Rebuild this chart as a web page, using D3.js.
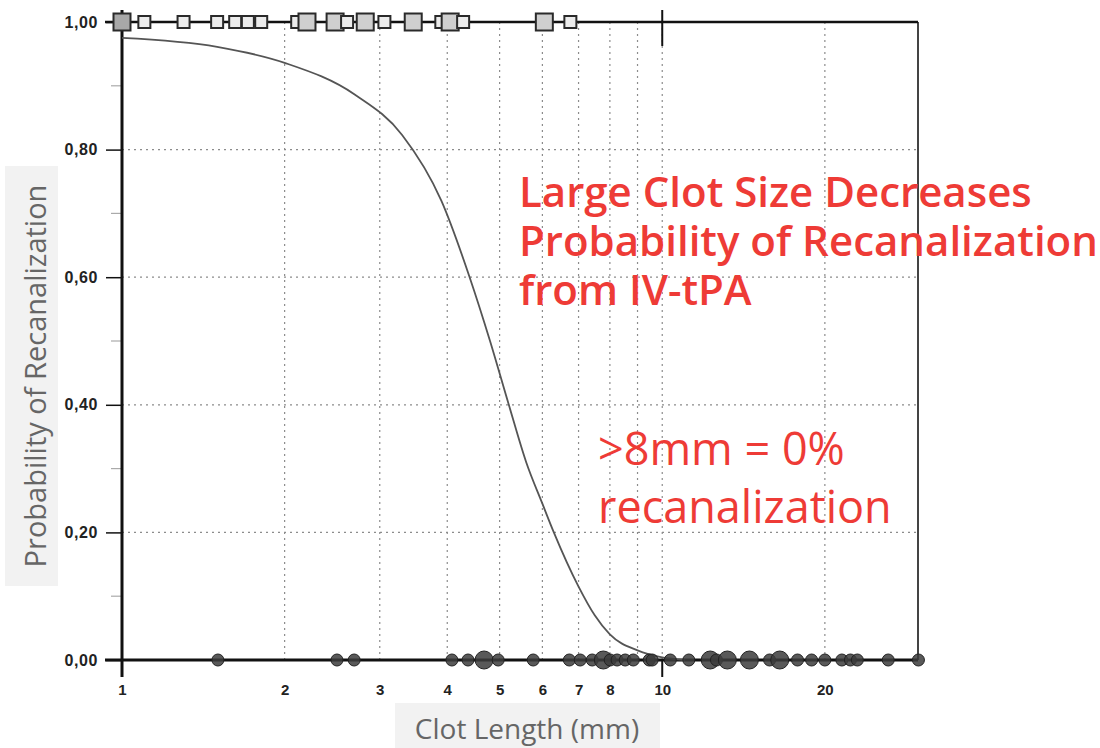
<!DOCTYPE html>
<html>
<head>
<meta charset="utf-8">
<script src="https://cdnjs.cloudflare.com/ajax/libs/d3/7.8.5/d3.min.js"></script>
<style>
  body { margin: 0; background: #fff; }
  svg { display: block; }
</style>
</head>
<body>
<div id="chart"></div>
<script>
// Canvas size
var w = 1100;
var h = 748;

// Fitted curve
var curveX = [1, 1.5, 2, 2.7, 3.3, 3.9, 4.4, 4.8, 5.2, 5.6, 6.0, 6.3, 7.0, 7.5, 8.0, 9.0, 10, 11];
var curveY = [0.975, 0.961, 0.936, 0.886, 0.823, 0.72, 0.60, 0.50, 0.40, 0.31, 0.245, 0.20, 0.115, 0.07, 0.04, 0.015, 0.004, 0];

// Recanalized (top row, squares): clot length and number of patients
var squareX = [1.0, 1.10, 1.30, 1.50, 1.62, 1.71, 1.81, 2.11, 2.20, 2.48, 2.61, 2.82, 3.06, 3.46, 3.90, 4.05, 4.28, 6.05, 6.76];
var squareN = [3, 1, 1, 1, 1, 1, 1, 1, 2, 2, 1, 2, 1, 2, 1, 2, 1, 2, 1];

// Not recanalized (bottom row, circles)
var circleX = [1.505, 2.50, 2.69, 4.08, 4.37, 4.68, 4.97, 5.77, 6.73, 7.05, 7.42, 7.78, 8.01, 8.25, 8.54, 8.84, 9.46, 9.58,
               10.35, 11.2, 12.27, 12.6, 13.2, 14.5, 15.8, 16.5, 17.8, 18.9, 20.0, 21.5, 22.3, 22.97, 26.2, 29.8];
var circleN = [1, 1, 1, 1, 1, 2, 1, 1, 1, 1, 1, 2, 1, 1, 1, 1, 1, 1,
               1, 1, 2, 1, 2, 2, 1, 2, 1, 1, 1, 1, 1, 1, 1, 1];

// Ticks
var xTicks = [1, 2, 3, 4, 5, 6, 7, 8, 10, 20];
var xGrid = [2, 3, 4, 5, 6, 7, 8, 9, 10, 20];
var yTicks = [0, 0.2, 0.4, 0.6, 0.8, 1.0];
var yMinor = [0.1, 0.3, 0.5, 0.7, 0.9];

var titleLines = ["Large Clot Size Decreases", "Probability of Recanalization", "from IV-tPA"];
var noteLines = [">8mm = 0%", "recanalization"];

var svg = d3.select('#chart').append('svg')
    .attr('width', w)
    .attr('height', h);

var x = d3.scaleLog()
    .domain([1, 30])
    .range([122, 920]);

var y = d3.scaleLinear()
    .domain([0, 1])
    .range([660, 22]);

var fmt = function(d) { return d3.format('.2f')(d).replace('.', ','); };

// grid
svg.append('g').selectAll('line')
    .data(xGrid)
  .enter().append('line')
    .attr('x1', d => x(d)).attr('x2', d => x(d))
    .attr('y1', y(1)).attr('y2', y(0))
    .attr('stroke', '#8c8c8c')
    .attr('stroke-width', 1.2)
    .attr('stroke-dasharray', '2,4');

svg.append('g').selectAll('line')
    .data([0.2, 0.4, 0.6, 0.8])
  .enter().append('line')
    .attr('x1', x(1)).attr('x2', 916)
    .attr('y1', d => y(d)).attr('y2', d => y(d))
    .attr('stroke', '#8c8c8c')
    .attr('stroke-width', 1.2)
    .attr('stroke-dasharray', '2,4');

// frame: right side
svg.append('line')
    .attr('x1', 918).attr('x2', 918)
    .attr('y1', y(1)).attr('y2', y(0))
    .attr('stroke', '#444').attr('stroke-width', 2);

// top and bottom rows
svg.selectAll('.row')
    .data([0, 1])
  .enter().append('line')
    .attr('x1', 105).attr('x2', 918)
    .attr('y1', d => y(d)).attr('y2', d => y(d))
    .attr('stroke', '#111')
    .attr('stroke-width', d => d ? 2.5 : 3);

// tick at 10, top and bottom
svg.append('line')
    .attr('x1', x(10)).attr('x2', x(10))
    .attr('y1', 10).attr('y2', 46)
    .attr('stroke', '#111').attr('stroke-width', 2);
svg.append('line')
    .attr('x1', x(10)).attr('x2', x(10))
    .attr('y1', y(0)).attr('y2', 677)
    .attr('stroke', '#111').attr('stroke-width', 2);

// y axis
var yAxis = d3.axisLeft(y)
    .tickValues(yTicks)
    .tickSize(16)
    .tickPadding(8)
    .tickFormat(fmt);

var gy = svg.append('g')
    .attr('transform', 'translate(' + x(1) + ',0)')
    .call(yAxis);
gy.select('.domain').remove();
gy.selectAll('.tick line').attr('stroke', '#111').attr('stroke-width', 1.5);
gy.selectAll('.tick text')
    .attr('fill', '#222')
    .style('font-family', 'Liberation Sans, Arial, sans-serif')
    .style('font-weight', 'bold')
    .style('font-size', '16px')
    .style('letter-spacing', '0.6px');

svg.append('g').selectAll('line')
    .data(yMinor)
  .enter().append('line')
    .attr('x1', x(1) - 11).attr('x2', x(1))
    .attr('y1', d => y(d)).attr('y2', d => y(d))
    .attr('stroke', '#aaa').attr('stroke-width', 1.2);

svg.append('line')
    .attr('x1', x(1)).attr('x2', x(1))
    .attr('y1', 10).attr('y2', 677)
    .attr('stroke', '#111').attr('stroke-width', 3);

// x tick labels
var xAxis = d3.axisBottom(x)
    .tickValues(xTicks)
    .tickSize(0)
    .tickPadding(24)
    .tickFormat(d3.format('d'));

var gx = svg.append('g')
    .attr('transform', 'translate(0,' + y(0) + ')')
    .call(xAxis);
gx.select('.domain').remove();
gx.selectAll('.tick text')
    .attr('fill', '#222')
    .style('font-family', 'Liberation Sans, Arial, sans-serif')
    .style('font-weight', 'bold')
    .style('font-size', '15px');

// curve
var line = d3.line()
    .x(d => x(d[0]))
    .y(d => y(d[1]))
    .curve(d3.curveMonotoneX);

svg.append('path')
    .datum(d3.zip(curveX, curveY))
    .attr('d', line)
    .attr('fill', 'none')
    .attr('stroke', '#555')
    .attr('stroke-width', 1.8);

// circles, bottom row
var r = d3.scaleOrdinal().domain([1, 2]).range([6, 9]);
svg.append('g').selectAll('circle')
    .data(d3.zip(circleX, circleN))
  .enter().append('circle')
    .attr('cx', d => x(d[0]))
    .attr('cy', y(0))
    .attr('r', d => r(d[1]))
    .attr('fill', '#3c3c3c')
    .attr('fill-opacity', 0.85)
    .attr('stroke', '#222')
    .attr('stroke-width', 1);

// squares, top row
var side = d3.scaleOrdinal().domain([1, 2, 3]).range([12, 17, 17]);
var sqFill = d3.scaleOrdinal().domain([1, 2, 3]).range(['#ececec', '#cfcfcf', '#a8a8a8']);
svg.append('g').selectAll('rect')
    .data(d3.zip(squareX, squareN))
  .enter().append('rect')
    .attr('x', d => x(d[0]) - side(d[1]) / 2)
    .attr('y', d => y(1) - side(d[1]) / 2)
    .attr('width', d => side(d[1]))
    .attr('height', d => side(d[1]))
    .attr('fill', d => sqFill(d[1]))
    .attr('stroke', '#2a2a2a')
    .attr('stroke-width', 2);

// axis titles on grey boxes
svg.append('rect')
    .attr('x', 5).attr('y', 166).attr('width', 53).attr('height', 420)
    .attr('fill', '#f2f2f2');
svg.append('text')
    .attr('transform', 'translate(46,376) rotate(-90)')
    .attr('text-anchor', 'middle')
    .attr('fill', '#666')
    .style('font-family', 'Open Sans, sans-serif')
    .style('font-size', '29px')
    .text('Probability of Recanalization');

svg.append('rect')
    .attr('x', 395).attr('y', 703).attr('width', 265).attr('height', 45)
    .attr('fill', '#f2f2f2');
svg.append('text')
    .attr('x', 527).attr('y', 739)
    .attr('text-anchor', 'middle')
    .attr('fill', '#666')
    .style('font-family', 'Open Sans, sans-serif')
    .style('font-size', '28px')
    .text('Clot Length (mm)');

// annotations
svg.append('g').selectAll('text')
    .data(titleLines)
  .enter().append('text')
    .attr('x', 519)
    .attr('y', (d, i) => 207 + i * 49)
    .attr('fill', '#ee3b36')
    .style('font-family', 'Open Sans, sans-serif')
    .style('font-weight', 600)
    .style('font-size', '42px')
    .text(d => d);

svg.append('g').selectAll('text')
    .data(noteLines)
  .enter().append('text')
    .attr('x', 598)
    .attr('y', (d, i) => 465 + i * 58)
    .attr('fill', '#ee3b36')
    .style('font-family', 'Open Sans, sans-serif')
    .style('font-size', '45px')
    .text(d => d);
</script>
</body>
</html>
